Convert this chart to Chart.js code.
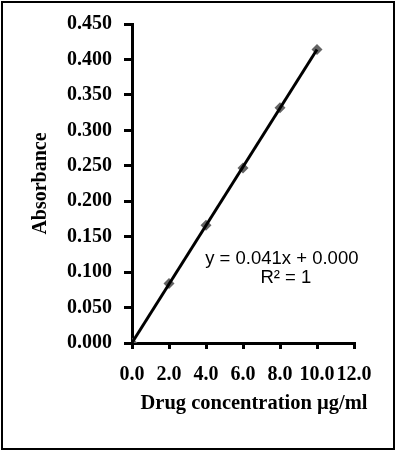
<!DOCTYPE html>
<html>
<head>
<meta charset="utf-8">
<script src="https://cdn.jsdelivr.net/npm/chart.js@4/dist/chart.umd.min.js"></script>
<style>
  html, body { margin: 0; padding: 0; background: #fff; }
  canvas { display: block; }
</style>
</head>
<body>
<canvas id="calib-chart" width="397" height="451"></canvas>
<script>
// calibration data
let concentrations = [0, 2, 4, 6, 8, 10];
let absorbances = [0.000, 0.084, 0.166, 0.247, 0.332, 0.414];

let xTickLabels = ['0.0', '2.0', '4.0', '6.0', '8.0', '10.0', '12.0'];
let yTickLabels = ['0.000', '0.050', '0.100', '0.150', '0.200', '0.250', '0.300', '0.350', '0.400', '0.450'];

let xTitle = 'Drug concentration \u00b5g/ml';
let yTitle = 'Absorbance';
let equationLines = ['y = 0.041x + 0.000', 'R\u00b2 = 1'];

// least squares fit for the trendline
let fitLine = () => {
  let n = concentrations.length;
  let sx = 0, sy = 0, sxx = 0, sxy = 0;
  concentrations.forEach((x, i) => {
    sx += x; sy += absorbances[i]; sxx += x * x; sxy += x * absorbances[i];
  });
  let slope = (n * sxy - sx * sy) / (n * sxx - sx * sx);
  let icept = (sy - slope * sx) / n;
  let x0 = concentrations[0], x1 = concentrations[n - 1];
  return [{ x: x0, y: icept + slope * x0 }, { x: x1, y: icept + slope * x1 }];
};

let serif = '"Liberation Serif", "Times New Roman", serif';

let framePlugin = {
  id: 'frame',
  beforeDraw(chart) {
    let ctx = chart.ctx;
    ctx.save();
    ctx.fillStyle = '#fff';
    ctx.fillRect(0, 0, chart.width, chart.height);
    ctx.restore();
  },
  afterDraw(chart) {
    let ctx = chart.ctx;
    let xs = chart.scales.x, ys = chart.scales.y;
    ctx.save();
    ctx.strokeStyle = '#000';
    ctx.lineWidth = 2;
    ctx.strokeRect(2, 2, chart.width - 5, chart.height - 4);

    // x axis title
    ctx.fillStyle = '#000';
    ctx.font = 'bold 20.5px ' + serif;
    ctx.textAlign = 'center';
    ctx.textBaseline = 'alphabetic';
    ctx.fillText(xTitle, 254, 409);

    // trendline equation
    ctx.font = '18.5px "Liberation Sans", Arial, sans-serif';
    let ex = xs.getPixelForValue(8.1);
    let ey = ys.getPixelForValue(0.111);
    ctx.fillText(equationLines[0], ex, ey);
    ctx.fillText(equationLines[1], ex + 4, ey + 19);
    ctx.restore();
  }
};

let renderChart = () => {
  let el = document.getElementById('calib-chart');
  new Chart(el, {
    type: 'scatter',
    data: {
      datasets: [
        {
          label: 'Linear (Absorbance)',
          data: fitLine(),
          showLine: true,
          borderColor: '#000',
          borderWidth: 3,
          pointRadius: 0,
          order: 0,
        },
        {
          label: 'Absorbance',
          data: concentrations.map((c, i) => ({ x: c, y: absorbances[i] })),
          pointStyle: 'rectRot',
          pointRadius: 5.5,
          backgroundColor: '#646464',
          borderColor: '#646464',
          borderWidth: 0,
          order: 1,
        },
      ],
    },
    options: {
      responsive: false,
      animation: false,
      devicePixelRatio: 1,
      layout: { padding: { left: 29, top: 24, right: 43, bottom: 0 } },
      plugins: {
        legend: { display: false },
        tooltip: { enabled: false },
      },
      scales: {
        x: {
          type: 'linear',
          min: 0,
          max: 12,
          afterFit: s => { s.height = 108; },
          ticks: {
            stepSize: 2,
            autoSkip: false,
            maxRotation: 0,
            padding: 14,
            color: '#000',
            font: { family: serif, size: 20, weight: 'bold' },
            callback: (v, i) => xTickLabels[i],
          },
          grid: { drawOnChartArea: false, drawTicks: true, tickLength: 6, color: '#000', lineWidth: 3 },
          border: { color: '#000', width: 3 },
        },
        y: {
          min: 0,
          max: 0.45,
          afterFit: s => { s.width = 103; },
          ticks: {
            stepSize: 0.05,
            autoSkip: false,
            padding: 12,
            color: '#000',
            font: { family: serif, size: 20, weight: 'bold' },
            callback: (v, i) => yTickLabels[i],
          },
          grid: { drawOnChartArea: false, drawTicks: true, tickLength: 8, color: '#000', lineWidth: 3 },
          border: { color: '#000', width: 3 },
          title: {
            display: true,
            text: yTitle,
            color: '#000',
            padding: { top: 0, bottom: 0 },
            font: { family: serif, size: 20, weight: 'bold' },
          },
        },
      },
    },
    plugins: [framePlugin],
  });
};

renderChart();
</script>
</body>
</html>
